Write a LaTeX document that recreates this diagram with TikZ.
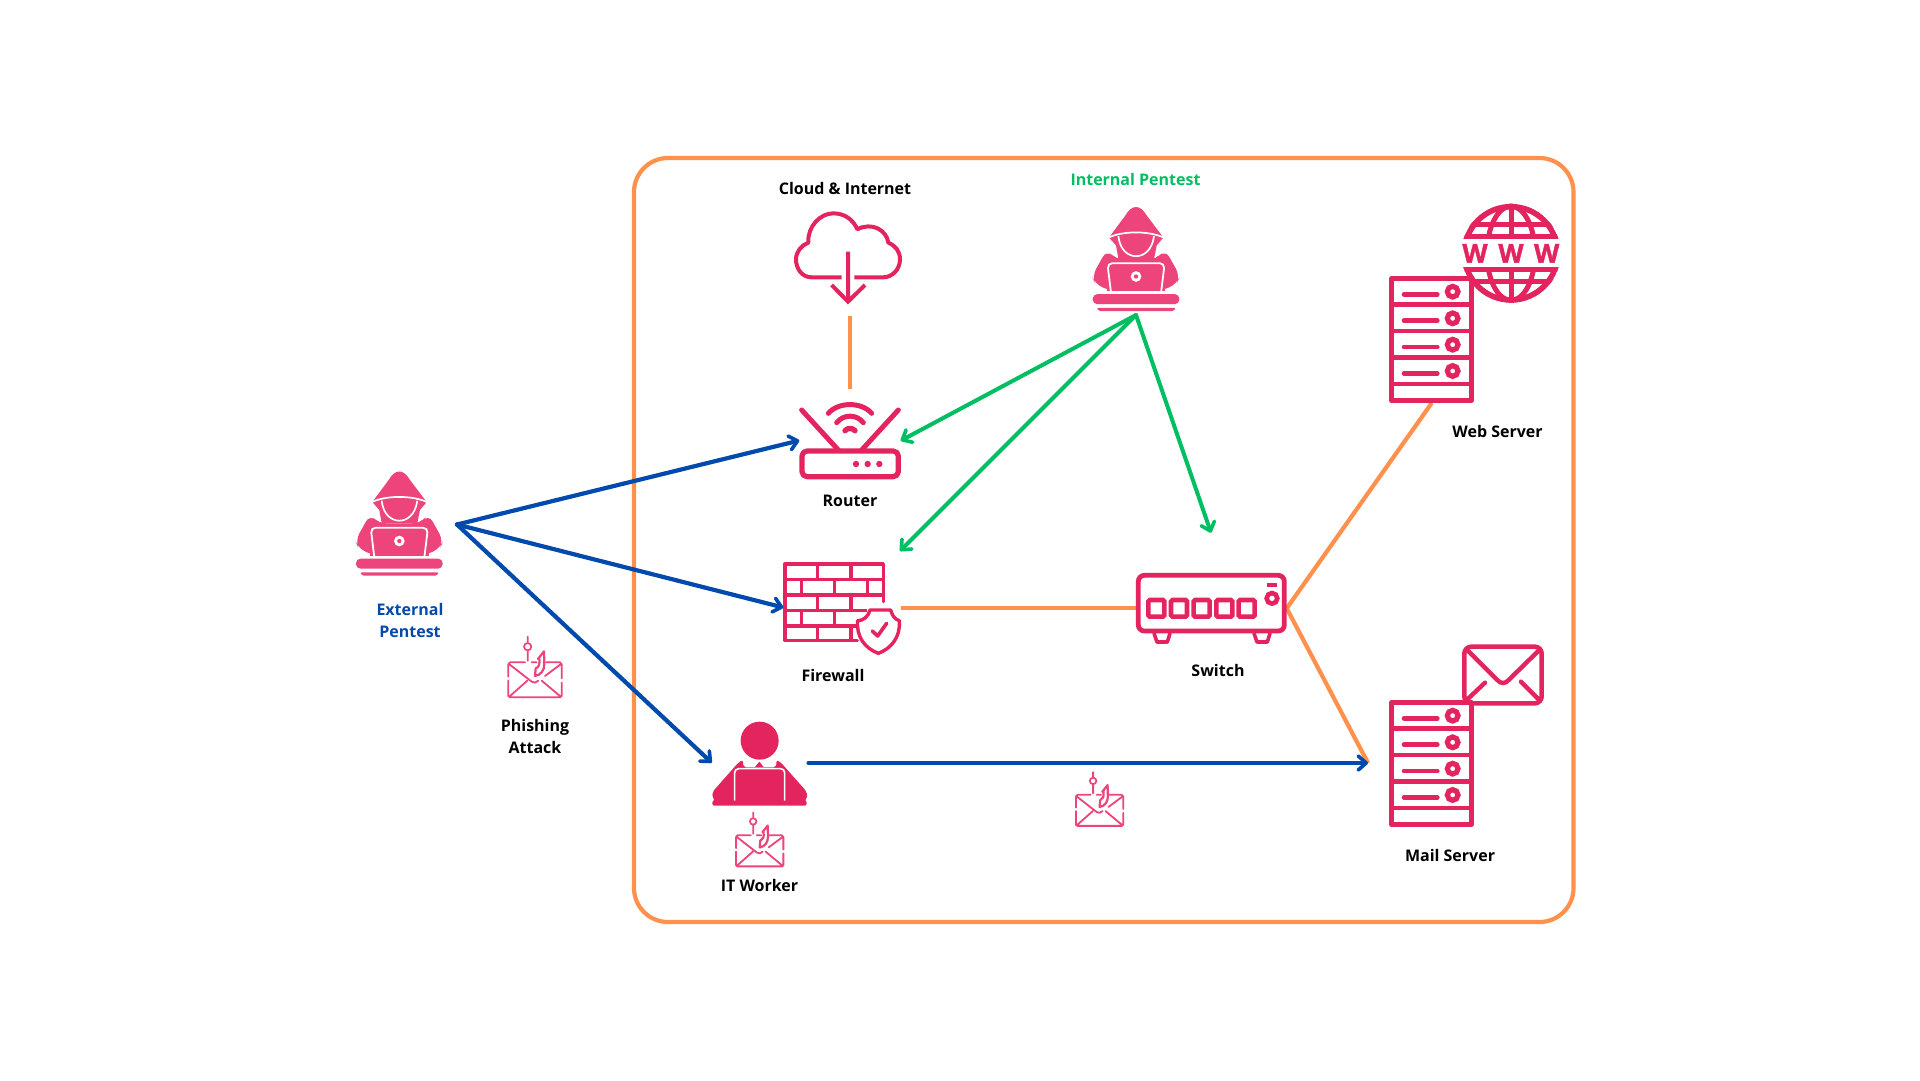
\documentclass[tikz,border=0pt]{standalone}
\usepackage{fontspec}
\setmainfont{Open Sans}
\newfontfamily\wfont[FakeBold=1.6]{Open Sans Bold}
\usetikzlibrary{arrows.meta}
\definecolor{crim}{HTML}{E4245F}
\definecolor{hack}{HTML}{EC447B}
\definecolor{frameor}{HTML}{FF914D}
\definecolor{blu}{HTML}{004AAD}
\definecolor{grn}{HTML}{00BF63}
\tikzset{
  lab/.style={font=\fontsize{16}{22}\selectfont\bfseries,align=center,text=black,inner sep=0pt},
  orline/.style={draw=frameor,line width=4.2pt},
  blarrow/.style={draw=blu,line width=4.2pt,-{Straight Barb[length=8pt,width=14pt,line width=3.6pt,round]},line cap=round},
  grarrow/.style={draw=grn,line width=4pt,-{Straight Barb[length=8pt,width=14pt,line width=3.6pt,round]},line cap=round},
  ic/.style={draw=crim,line cap=round,line join=round},
  wglyph/.style={text=crim,font=\fontsize{26}{26}\selectfont\wfont,inner sep=0pt},
}
\newcommand{\hackericon}[2]{%
\begin{scope}[shift={(#1,#2)},x=.3333pt,y=-.3333pt]
 \fill[hack] (97,126) -- (146,60) .. controls (165,26) and (191,26) .. (210,60) -- (260,126) -- (240,150) -- (232,190) -- (125,190) -- (118,150) -- cycle;
 \fill[hack,rounded corners=8pt] (90,163) -- (46,242) -- (55,266) -- (105,287) -- (250,287) -- (300,266) -- (310,242) -- (266,163) -- (240,190) -- (115,190) -- cycle;
 \draw[white,line width=1.7pt] (92,128) .. controls (135,105) and (220,105) .. (265,128);
 \draw[white,line width=1.7pt] (125,122) .. controls (130,165) and (155,182) .. (178,182) .. controls (201,182) and (226,165) .. (232,122);
 \draw[white,line width=1.5pt] (97,140) -- (122,186);
 \draw[white,line width=1.5pt] (260,140) -- (235,186);
 \fill[hack] (90,205) rectangle (266,287);
 \draw[white,line width=1.8pt,fill=hack,rounded corners=5pt] (103,292) -- (92,203) -- (264,203) -- (253,292);
 \fill[white] (178,243) circle[radius=16];
 \fill[hack] (178,243) circle[radius=6.5];
 \fill[white] (80,287) rectangle (280,296);
 \fill[hack,rounded corners=4.5pt] (48,296) rectangle (308,326);
 \fill[hack,rounded corners=2pt] (60,337) -- (297,337) -- (292,347) -- (65,347) -- cycle;
\end{scope}}
\newcommand{\phishicon}[3]{%
\begin{scope}[shift={(#1,#2)},x=#3pt,y=-#3pt,shift={(-585,-660)}]
 \draw[hack,line width=1.8pt,line cap=round,line join=round]
   (505,650) -- (505,613) -- (510,607) -- (555,607)  (575,607) -- (590,607)  (618,607) -- (660,607) -- (665,613) -- (665,655)
   (665,668) -- (665,708) -- (660,712) -- (510,712) -- (505,708) -- (505,662)
   (507,612) -- (575,665) -- (585,668) -- (595,662)  (615,648) -- (663,612)
   (510,708) -- (562,662)  (660,708) -- (605,662)
   (563,530) -- (563,546)  (563,572) -- (563,602);
 \draw[hack,line width=1.7pt] (563,560) circle[radius=11];
 \draw[hack,line width=2.2pt,line join=round,line cap=round]
   (612,574) -- (594,597) (612,574) -- (613,612) .. controls (613,632) and (602,645) .. (585,648)
   -- (587,625) .. controls (597,622) and (600,612) .. (598,596);
\end{scope}}
\newcommand{\servericon}[1]{%
\begin{scope}[shift={(1380,#1)},x=.3333pt,y=-.3333pt]
 \draw[ic,line width=4.6pt,fill=white,line join=round] (35,265) rectangle (274,632);
 \foreach \yy in {344,423,503,582} \draw[crim,line width=4.6pt] (35,\yy) -- (274,\yy);
 \foreach \yy in {313,392,471,550} \draw[ic,line width=4.6pt] (72,\yy) -- (172,\yy);
 \foreach \yy in {305,385,464,543} \draw[crim,line width=5.2pt] (218,\yy) circle[radius=16];
\end{scope}}
\begin{document}
\begin{tikzpicture}[x=1pt,y=-1pt]
\useasboundingbox (0,0) rectangle (1920,1080);
\fill[white] (0,0) rectangle (1920,1080);
% frame
\draw[orline,rounded corners=34pt] (634,158) rectangle (1573.5,922);
% anchors
\coordinate (extsrc) at (457,524.5);
\coordinate (intsrc) at (1136,315);
\coordinate (rtL) at (799.3,440.5);
\coordinate (rtR) at (900.7,440.7);
\coordinate (fwL) at (783.3,607.5);
\coordinate (fwT) at (900,551);
\coordinate (fwR) at (900.7,608.3);
\coordinate (swT) at (1211,532.7);
\coordinate (swL) at (1135.7,608.3);
\coordinate (swR) at (1286.7,608.3);
\coordinate (itT) at (711.7,762.7);
\coordinate (itR) at (808.5,763);
\coordinate (mailL) at (1368,763);
\coordinate (webB) at (1431.7,403);
\coordinate (clB) at (850,316);
\coordinate (rtT) at (850,389);
% orange links
\draw[orline] (clB) -- (rtT);
\draw[orline] (fwR) -- (swL);
\draw[orline] (swR) -- (webB);
\draw[orline] (swR) -- (mailL);
% blue
\draw[blarrow] (extsrc) -- (rtL);
\draw[blarrow] (extsrc) -- (fwL);
\draw[blarrow] (extsrc) -- (itT);
\draw[blarrow] (itR) -- (mailL);
% green
\draw[grarrow] (intsrc) -- (rtR);
\draw[grarrow] (intsrc) -- (fwT);
\draw[grarrow] (intsrc) -- (swT);
% hackers
\hackericon{340}{460}
\hackericon{1076.7}{195.5}
\phishicon{535}{680}{.3333}
\phishicon{759.7}{851}{.2958}
\phishicon{1099.6}{810.5}{.2958}
% cloud
\begin{scope}[shift={(770,190)},x=.3333pt,y=-.3333pt]
 \draw[ic,line width=4pt,line cap=butt] (215,262) -- (125,262) .. controls (95,262) and (78,235) .. (78,208) .. controls (78,185) and (95,165) .. (115,158) .. controls (112,110) and (150,70) .. (190,70) .. controls (225,70) and (250,90) .. (262,118) .. controls (305,95) and (350,120) .. (355,158) .. controls (378,168) and (390,185) .. (390,208) .. controls (390,240) and (365,262) .. (340,262) -- (253,262);
 \draw[ic,line width=4pt,line cap=butt,line join=miter] (234,185) -- (234,335) (185,285) -- (234,335) -- (285,285);
\end{scope}
% router
\begin{scope}[shift={(780,390)},x=.3333pt,y=-.3333pt]
 \draw[ic,line width=5.2pt,rounded corners=5pt] (66,183) rectangle (355,260);
 \draw[ic,line width=5pt] (65,60) -- (175,180) (355,60) -- (245,180);
 \draw[ic,line width=5pt] (145,70) .. controls (175,35) and (245,35) .. (275,70);
 \draw[ic,line width=5pt] (170,98) .. controls (190,72) and (230,72) .. (250,98);
 \draw[ic,line width=5.4pt] (195,122) .. controls (203,113) and (217,113) .. (225,122);
 \foreach \xx in {228,263,298} \fill[crim] (\xx,222) circle[radius=9.5];
\end{scope}
% firewall
\begin{scope}[shift={(770,550)},x=.3333pt,y=-.3333pt]
 \draw[ic,line width=3.3pt] (340,155) -- (340,42) -- (45,42) -- (45,272) -- (262,272);
 \foreach \yy in {88,135} \draw[crim,line width=3.3pt] (45,\yy) -- (340,\yy);
 \draw[crim,line width=3.3pt] (45,182) -- (290,182);
 \draw[crim,line width=3.3pt] (45,228) -- (262,228);
 \draw[crim,line width=3.3pt] (143,42)--(143,88) (243,42)--(243,88) (95,88)--(95,135) (193,88)--(193,135) (292,88)--(292,135) (143,135)--(143,182) (243,135)--(243,182) (95,182)--(95,228) (193,182)--(193,228) (143,228)--(143,272) (243,228)--(243,272);
 \draw[ic,line width=3.4pt,fill=white] (263,212) .. controls (280,212) and (295,200) .. (300,180) -- (362,180) .. controls (367,198) and (375,208) .. (388,212) .. controls (392,260) and (365,295) .. (325,310) .. controls (285,295) and (258,260) .. (263,212) -- cycle;
 \draw[ic,line width=3.6pt] (307,243) -- (323,258) -- (350,220);
\end{scope}
% switch
\begin{scope}[shift={(1120,560)},x=.3333pt,y=-.3333pt]
 \draw[ic,line width=4.8pt,fill=white,rounded corners=6pt] (55,46) rectangle (493,213);
 \foreach \xx in {109,177,245,313,380} \draw[crim,line width=4.6pt,rounded corners=1.5pt] (\xx-24,120) rectangle (\xx+24,170);
 \fill[crim] (440,70) rectangle (472,82);
 \draw[crim,line width=4.6pt] (456,115) circle[radius=16];
 \draw[ic,line width=3.6pt] (102,220) -- (111,246) -- (142,246) -- (150,220);
 \draw[ic,line width=3.6pt] (402,220) -- (411,246) -- (442,246) -- (450,220);
\end{scope}
% globe
\begin{scope}[shift={(1380,190)},x=.3333pt,y=-.3333pt]
 \begin{scope}
  \clip (393,190) circle[radius=149];
  \draw[crim,line width=5.6pt] (393,190) circle[radius=140];
  \draw[crim,line width=5pt] (393,190) ellipse[x radius=72,y radius=141];
  \draw[crim,line width=5pt] (393,40) -- (393,340);
  \foreach \yy in {104,138,240,276} \draw[crim,line width=5pt] (240,\yy) -- (550,\yy);
 \end{scope}
 \fill[white] (240,146) rectangle (550,232);
 \node[wglyph] (w1) at (285,190) {W};
 \node[wglyph] (w2) at (393,190) {W};
 \node[wglyph] (w3) at (500,190) {W};
\end{scope}
\servericon{190}
% mail envelope
\begin{scope}[shift={(1380,630)},x=.3333pt,y=-.3333pt]
 \draw[ic,line width=4.6pt,fill=white,rounded corners=7pt] (253,50) rectangle (485,220);
 \draw[ic,line width=4.4pt] (260,58) -- (352,150) .. controls (362,162) and (376,162) .. (386,150) -- (480,58);
 \draw[ic,line width=4.4pt] (258,212) -- (315,158) (480,212) -- (423,155);
\end{scope}
\servericon{614}
% IT worker
\begin{scope}[shift={(700,710)},x=.3333pt,y=-.3333pt]
 \fill[crim] (179,92) circle[radius=57];
 \fill[crim,rounded corners=2pt] (115,158) -- (128,150) -- (131,172) -- (228,172) -- (230,150) -- (243,158) -- (320,245) -- (322,265) -- (313,272) -- (320,272) -- (320,287) -- (37,287) -- (37,272) -- (45,272) -- (37,262) -- (38,245) -- cycle;
 \fill[crim] (178,155) -- (165,171) -- (191,171) -- cycle;
 \draw[white,line width=1.6pt,rounded corners=4pt] (104,272) -- (104,176) -- (254,176) -- (254,272);
\end{scope}
% labels
\node[lab] (lcloud) at (845,188.6) {Cloud \& Internet};
\node[lab,text=grn] (lint) at (1135.5,179.6) {Internal Pentest};
\node[lab] (lrouter) at (850,500.6) {Router};
\node[lab] (lfw) at (833,675.6) {Firewall};
\node[lab] (lsw) at (1218,670.6) {Switch};
\node[lab] (lweb) at (1497.5,431.6) {Web Server};
\node[lab] (lmail) at (1450,855.6) {Mail Server};
\node[lab] (lit) at (759.5,885.6) {IT Worker};
\node[lab] (lphish) at (535,736.6) {Phishing\\Attack};
\node[lab,text=blu] (lext) at (410,620.6) {External\\Pentest};
\end{tikzpicture}
\end{document}
